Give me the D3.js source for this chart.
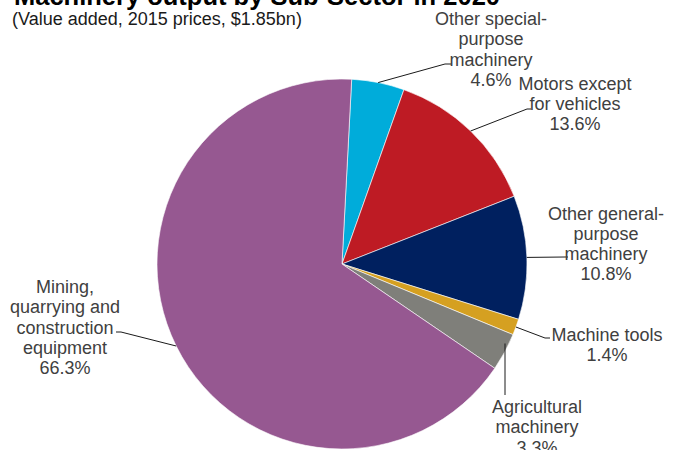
<!DOCTYPE html>
<html>
<head>
<meta charset="utf-8">
<script src="https://cdn.jsdelivr.net/npm/d3@7"></script>
<style>
  html, body { margin: 0; padding: 0; background: #fff; }
  svg { display: block; font-family: "Liberation Sans", Arial, sans-serif; }
</style>
</head>
<body>
<svg id="chart" width="681" height="450"></svg>
<script>
// Sub-sector shares of machinery value added (%), clockwise from the top
const sectors = [
  "Other special-purpose machinery",
  "Motors except for vehicles",
  "Other general-purpose machinery",
  "Machine tools",
  "Agricultural machinery",
  "Mining, quarrying and construction equipment"
];
const shares = [4.6, 13.6, 10.8, 1.4, 3.3, 66.3];
const colors = ["#00acda", "#be1b24", "#00205f", "#d5a021", "#7f7f7a", "#965891"];
// Label text, one array of lines per sector
const labelLines = [
  ["Other special-", "purpose", "machinery"],
  ["Motors except", "for vehicles"],
  ["Other general-", "purpose", "machinery"],
  ["Machine tools"],
  ["Agricultural", "machinery"],
  ["Mining,", "quarrying and", "construction", "equipment"]
];
// Label anchor (centre x, first baseline y) and leader elbow for each slice
const labelPos = [
  { x: 491, y: 25, elbow: [[445, 64], [451, 64]] },
  { x: 575, y: 89.5, elbow: [[527, 109], [531, 109]] },
  { x: 606, y: 219.5, elbow: [[565, 257], [568, 257]] },
  { x: 607, y: 341, elbow: [[545, 338], [550, 338]] },
  { x: 537, y: 413, elbow: [[505, 393], [505, 395]] },
  { x: 65, y: 293, elbow: [[121, 332], [116, 332]] }
];
const lineHeight = 20.3;

const svg = d3.select("#chart");
const cx = 342, cy = 264, radius = 185;
const startAngle = 3 * Math.PI / 180;

const data = sectors.map((name, i) => ({ name, value: shares[i], color: colors[i], lines: labelLines[i], pos: labelPos[i] }));

const pie = d3.pie()
  .value(d => d.value)
  .sort(null)
  .startAngle(startAngle)
  .endAngle(startAngle + 2 * Math.PI);

const arcs = pie(data);
const arc = d3.arc().innerRadius(0).outerRadius(radius);

const g = svg.append("g").attr("transform", `translate(${cx},${cy})`);

g.selectAll("path.slice")
  .data(arcs)
  .join("path")
  .attr("class", "slice")
  .attr("d", arc)
  .attr("fill", d => d.data.color)
  .attr("stroke", "#ffffff")
  .attr("stroke-width", 0.6);

// Leader lines start on the rim of each slice
const edgeArc = d3.arc().innerRadius(radius).outerRadius(radius);
const leaderStart = arcs.map((d, i) => {
  let [px, py] = edgeArc.centroid(d);
  if (i === 4) {
    // Agricultural leader drops straight down from the rim
    px = 505 - cx;
    py = Math.sqrt(radius * radius - px * px) - 8;
  }
  if (i === 5) {
    // Mining leader meets the rim on the lower left
    py = 346 - cy;
    px = -Math.sqrt(radius * radius - py * py);
  }
  return [cx + px, cy + py];
});

const line = d3.line();
svg.selectAll("path.leader")
  .data(arcs)
  .join("path")
  .attr("class", "leader")
  .attr("fill", "none")
  .attr("stroke", "#1a1a1a")
  .attr("stroke-width", 1)
  .attr("d", (d, i) => line([leaderStart[i], ...d.data.pos.elbow]));

// Labels: name lines followed by percentage
const labels = svg.selectAll("text.label")
  .data(arcs)
  .join("text")
  .attr("class", "label")
  .attr("text-anchor", "middle")
  .attr("font-size", 18)
  .attr("fill", "#404040");

labels.each(function (d) {
  const t = d3.select(this);
  const all = [...d.data.lines, d3.format(".1f")(d.data.value) + "%"];
  all.forEach((s, k) => {
    t.append("tspan")
      .attr("x", d.data.pos.x)
      .attr("y", d.data.pos.y + k * lineHeight)
      .text(s);
  });
});

// Title and subtitle
svg.append("text")
  .attr("x", 14)
  .attr("y", 5)
  .attr("font-size", 25.5)
  .attr("font-weight", "bold")
  .attr("fill", "#000")
  .text("Machinery output by Sub-Sector in 2020");

svg.append("text")
  .attr("x", 12)
  .attr("y", 25)
  .attr("font-size", 18)
  .attr("fill", "#1a1a1a")
  .text("(Value added, 2015 prices, $1.85bn)");
</script>
</body>
</html>
